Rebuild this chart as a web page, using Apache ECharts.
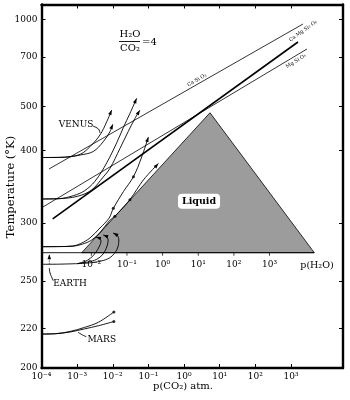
<!DOCTYPE html>
<html><head><meta charset="utf-8">
<script src="https://cdn.jsdelivr.net/npm/echarts@6/dist/echarts.min.js"></script>
<style>html,body{margin:0;padding:0;background:#fff}#c{width:350px;height:400px}</style>
</head><body><div id="c"></div>
<script>
// ---------- axes ----------
const tempTicks = [1000, 700, 500, 400, 300, 250, 220, 200];
const pco2TickExps = [-4, -3, -2, -1, 0, 1, 2, 3];
const ph2oTickExps = [-2, -1, 0, 1, 2, 3];
const h2oToCo2 = 4;
const tempTop = 1208, tempBottom = 200;
const logpMin = -4, logpMax = 4.46;

// ---------- liquid water field (log10 pCO2, T in K) ----------
const liquidLogp = [-2.872, 0.728, 3.654];
const liquidT = [272, 483, 272];
const freezeT = 272;

// ---------- mineral equilibrium lines ----------
const mineralNames = ['Ca Si O₃', 'Ca Mg Si₂ O₆', 'Mg Si O₃'];
const mineralLogp0 = [-3.790, -3.686, -3.958];
const mineralT0 = [368.2, 304.0, 317.3];
const mineralLogp1 = [3.337, 3.197, 3.449];
const mineralT1 = [950.9, 794.8, 747.0];
const mineralLabelLogp = [0.363, 3.337, 3.141];
const mineralLabelT = [590, 883, 677];

// ---------- Venus ----------
const venusHotA_logp = [-4, -3.5, -3.2, -2.9, -2.64, -2.36, -2.17, -2.03];
const venusHotA_T = [387, 387.2, 388.5, 393, 406.5, 430, 460, 490.5];
const venusHotB_logp = [-4, -3.5, -3.2, -2.9, -2.55, -2.27, -2.08, -2.0];
const venusHotB_T = [387, 387.2, 388.3, 391.5, 397.5, 416, 437, 454];
const venusWarmA_logp = [-4, -3.5, -3.1, -2.8, -2.5, -2.17, -1.89, -1.70, -1.52, -1.33];
const venusWarmA_T = [326.8, 327.2, 331, 337, 350, 378, 414, 447, 481, 525];
const venusWarmB_logp = [-4, -3.5, -3.0, -2.6, -2.27, -2.08, -1.80, -1.57, -1.38, -1.24];
const venusWarmB_T = [326.8, 327.2, 330, 338, 356, 369, 403, 437, 468, 490];

// ---------- Earth ----------
const earthA_logp = [-4, -3.5, -3.12, -2.9, -2.64, -2.36, -2.1, -1.985, -1.70, -1.42, -1.2, -1.0];
const earthA_T = [277.2, 277.3, 277.8, 280, 285.1, 294.7, 305.1, 315.7, 336.2, 356.6, 386.1, 425.8];
const earthB_logp = [-4, -3.5, -3.12, -2.85, -2.6, -2.35, -2.1, -1.94, -1.52, -1.14, -0.72];
const earthB_T = [277.2, 277.3, 277.6, 279.5, 283, 290.5, 302, 307, 326, 352, 377];
const earthCold_logp = [-4, -3.5, -3.0];
const earthCold_T = [262.5, 262.6, 263];
const hook1_logp = [-3.0, -2.8, -2.62, -2.47, -2.37, -2.33, -2.39, -2.47];
const hook1_T = [263, 264.5, 267.5, 272.6, 277.8, 282.3, 285.1, 286.0];
const hook2_logp = [-3.0, -2.7, -2.45, -2.27, -2.16, -2.13, -2.19, -2.27];
const hook2_T = [263, 264.3, 266.5, 270.9, 277.8, 283.2, 286.9, 287.9];
const hook3_logp = [-3.0, -2.6, -2.27, -2.05, -1.88, -1.83, -1.88, -1.99];
const hook3_T = [263, 263.8, 265.5, 268.5, 275, 283.2, 287.9, 289.8];

// ---------- Mars ----------
const marsA_logp = [-4, -3.6, -3.2, -2.8, -2.4, -1.97];
const marsA_T = [216.9, 217.1, 218.3, 220.5, 223.5, 229.5];
const marsB_logp = [-4, -3.6, -3.2, -2.8, -2.4, -1.97];
const marsB_T = [216.9, 217.1, 218.0, 219.7, 221.5, 223.9];

// ---------- marked points ----------
const dotLogp = [-1.985, -1.42, -1.94, -1.52, -1.97, -1.97];
const dotT = [315.7, 356.6, 307, 326, 229.5, 223.9];

// ---------- annotations ----------
const noteText = ['VENUS', 'EARTH', 'MARS'];
const noteLogp = [-3.03, -3.20, -2.31];
const noteT = [452.3, 247.8, 213.7];
const venusLeader_logp = [-2.555, -2.40, -2.359];
const venusLeader_T = [450, 443, 434.3];
const earthLeader_logp = [-3.669, -3.761, -3.781];
const earthLeader_T = [250.1, 255.8, 259.6];
const earthUp_logp = [-3.781, -3.781];
const earthUp_T = [262.9, 270.6];
const marsLeader_logp = [-2.743, -2.85, -2.976];
const marsLeader_T = [215.5, 216.4, 217.9];
const liquidText = 'Liquid';
const liquidTextLogp = 0.42, liquidTextT = 324;
const ph2oName = 'p(H₂O)';
const ph2oNameLogp = 3.73;

// ---------- helpers ----------
const FONT = 'DejaVu Serif';
const sup = {'-':'⁻','0':'⁰','1':'¹','2':'²','3':'³','4':'⁴'};
const pow10 = k => '10' + String(k).split('').map(c => sup[c]).join('');
const inv = T => 1000 / T;
const pts = (lp, T) => lp.map((x, i) => [x, inv(T[i])]);

const series = [];
// liquid triangle
series.push({
  type: 'custom', z: 1, silent: true,
  encode: {x: [0, 2, 4], y: [1, 3, 5]},
  data: [[liquidLogp[0], inv(liquidT[0]), liquidLogp[1], inv(liquidT[1]), liquidLogp[2], inv(liquidT[2])]],
  renderItem: (params, api) => {
    const p = [0, 1, 2].map(i => api.coord([api.value(2 * i), api.value(2 * i + 1)]));
    return {type: 'polygon', shape: {points: p}, style: {fill: '#9c9c9c', stroke: '#000', lineWidth: 0.8}};
  }
});
// freezing line / p(H2O) axis
series.push({type: 'line', z: 3, symbol: 'none', data: [[logpMin, inv(freezeT)], [liquidLogp[2], inv(freezeT)]], lineStyle: {color: '#000', width: 0.9}});
// p(H2O) ticks
const shift = Math.log10(h2oToCo2);
series.push({
  type: 'scatter', z: 4, symbol: 'rect', symbolSize: [0.9, 3], symbolOffset: [0, 1.5],
  itemStyle: {color: '#000'}, silent: true,
  data: ph2oTickExps.map(k => [k - shift, inv(freezeT)])
});
// mineral lines
const mineralWidths = [0.8, 1.6, 0.8];
mineralNames.forEach((n, i) => {
  series.push({type: 'line', z: 5, symbol: 'none', data: [[mineralLogp0[i], inv(mineralT0[i])], [mineralLogp1[i], inv(mineralT1[i])]],
    lineStyle: {color: '#000', width: mineralWidths[i]}});
});
// planet curves
const curves = [
  [venusHotA_logp, venusHotA_T, true], [venusHotB_logp, venusHotB_T, true],
  [venusWarmA_logp, venusWarmA_T, true], [venusWarmB_logp, venusWarmB_T, true],
  [earthA_logp, earthA_T, true], [earthB_logp, earthB_T, true],
  [earthCold_logp, earthCold_T, false],
  [hook1_logp, hook1_T, true], [hook2_logp, hook2_T, true], [hook3_logp, hook3_T, true],
  [marsA_logp, marsA_T, false], [marsB_logp, marsB_T, false],
  [venusLeader_logp, venusLeader_T, false], [earthLeader_logp, earthLeader_T, false],
  [marsLeader_logp, marsLeader_T, false]
];
curves.forEach(c => {
  series.push({type: 'line', z: 7, symbol: 'none', smooth: 0.35, data: pts(c[0], c[1]), lineStyle: {color: '#000', width: 0.9}});
});
series.push({type: 'line', z: 7, symbol: 'none', data: pts(earthUp_logp, earthUp_T), lineStyle: {color: '#000', width: 0.8, type: 'dotted'}});
// arrow heads
const arrowData = curves.filter(c => c[2]).map(c => {
  const n = c[0].length;
  return [c[0][n - 1], inv(c[1][n - 1]), c[0][n - 2], inv(c[1][n - 2])];
});
arrowData.push([earthUp_logp[1], inv(earthUp_T[1]), earthUp_logp[0], inv(earthUp_T[0])]);
series.push({
  type: 'custom', z: 8, silent: true, encode: {x: 0, y: 1}, data: arrowData,
  renderItem: (params, api) => {
    const p = api.coord([api.value(0), api.value(1)]);
    const q = api.coord([api.value(2), api.value(3)]);
    const a = Math.atan2(p[1] - q[1], p[0] - q[0]);
    const L = 5, W = 1.8, c = Math.cos(a), s = Math.sin(a);
    return {type: 'polygon', shape: {points: [p, [p[0] - L * c + W * s, p[1] - L * s - W * c], [p[0] - L * c - W * s, p[1] - L * s + W * c]]},
      style: {fill: '#000'}};
  }
});
// dots
series.push({type: 'scatter', z: 9, symbol: 'circle', symbolSize: 3, itemStyle: {color: '#000'}, silent: true, data: pts(dotLogp, dotT)});

// text annotations: [logp, 1000/T, text, fontSize, rotateDeg, dx, dy, kind]
const annos = [];
noteText.forEach((t, i) => annos.push([noteLogp[i], inv(noteT[i]), t, 9, 0, 0, 0, 0]));
mineralNames.forEach((t, i) => annos.push([mineralLabelLogp[i], inv(mineralLabelT[i]), t, 5, [30, 36, 32][i], 0, 0, 0]));
ph2oTickExps.forEach(k => annos.push([k - shift, inv(freezeT), pow10(k), 9, 0, 0, 12, 0]));
annos.push([ph2oNameLogp, inv(freezeT), ph2oName, 9.5, 0, 0, 12.5, 0]);
annos.push([liquidTextLogp, inv(liquidTextT), liquidText, 9.5, 0, 0, 0, 1]);
series.push({
  type: 'custom', z: 10, silent: true, encode: {x: 0, y: 1},
  dimensions: ['x', 'y', {name: 't', type: 'ordinal'}, 'fs', 'rot', 'dx', 'dy', 'kind'],
  data: annos,
  renderItem: (params, api) => {
    const a = annos[params.dataIndex];
    const p = api.coord([a[0], a[1]]);
    const st = {text: a[2], fontFamily: FONT, fontSize: a[3], fill: '#000', align: 'center', verticalAlign: 'middle'};
    if (a[7] === 1) Object.assign(st, {fontWeight: 'bold', backgroundColor: '#fff', borderRadius: 4, padding: [3, 4, 2, 4]});
    return {type: 'text', x: p[0] + a[5], y: p[1] + a[6], rotation: a[4] * Math.PI / 180, style: st};
  }
});

const tickVals = tempTicks.map(inv);
const frameLine = {show: true, onZero: false, lineStyle: {color: '#000', width: 2.4}};
const chart = echarts.init(document.getElementById('c'), null, {renderer: 'canvas'});
chart.setOption({
  animation: false,
  backgroundColor: '#fff',
  grid: {left: 41.5, right: 7, top: 4.5, bottom: 32},
  xAxis: [
    {type: 'value', min: logpMin, max: logpMax, position: 'bottom',
      axisLine: frameLine, splitLine: {show: false},
      axisTick: {inside: true, length: 4, customValues: pco2TickExps, lineStyle: {color: '#000'}},
      axisLabel: {customValues: pco2TickExps, margin: 4, fontFamily: FONT, fontSize: 9, color: '#000', formatter: v => pow10(Math.round(v))}},
    {type: 'value', min: logpMin, max: logpMax, position: 'top',
      axisLine: frameLine, splitLine: {show: false},
      axisTick: {inside: true, length: 4, customValues: pco2TickExps, lineStyle: {color: '#000'}},
      axisLabel: {show: false}}
  ],
  yAxis: [
    {type: 'value', min: inv(tempTop), max: inv(tempBottom), inverse: true, position: 'left',
      axisLine: frameLine, splitLine: {show: false},
      axisTick: {inside: true, length: 4, customValues: tickVals, lineStyle: {color: '#000'}},
      axisLabel: {customValues: tickVals, margin: 4, fontFamily: FONT, fontSize: 9, color: '#000', formatter: v => String(Math.round(1000 / v))}},
    {type: 'value', min: inv(tempTop), max: inv(tempBottom), inverse: true, position: 'right',
      axisLine: frameLine, splitLine: {show: false},
      axisTick: {inside: true, length: 4, customValues: tickVals, lineStyle: {color: '#000'}},
      axisLabel: {show: false}}
  ],
  graphic: [
    {type: 'text', x: 11, y: 187, rotation: Math.PI / 2,
      style: {text: 'Temperature (°K)', fontFamily: FONT, fontSize: 11.5, fill: '#000', align: 'center', verticalAlign: 'middle'}},
    {type: 'text', x: 183, y: 386,
      style: {text: 'p(CO₂) atm.', fontFamily: FONT, fontSize: 10, fill: '#000', align: 'center', verticalAlign: 'middle'}},
    {type: 'text', x: 130, y: 34, style: {text: 'H₂O', fontFamily: FONT, fontSize: 10, fill: '#000', align: 'center', verticalAlign: 'middle'}},
    {type: 'line', shape: {x1: 119, y1: 41.5, x2: 140, y2: 41.5}, style: {stroke: '#000', lineWidth: 0.9}},
    {type: 'text', x: 130, y: 48.5, style: {text: 'CO₂', fontFamily: FONT, fontSize: 10, fill: '#000', align: 'center', verticalAlign: 'middle'}},
    {type: 'text', x: 142, y: 42, style: {text: '=4', fontFamily: FONT, fontSize: 10, fill: '#000', align: 'left', verticalAlign: 'middle'}}
  ],
  series: series
});
</script>
</body></html>
